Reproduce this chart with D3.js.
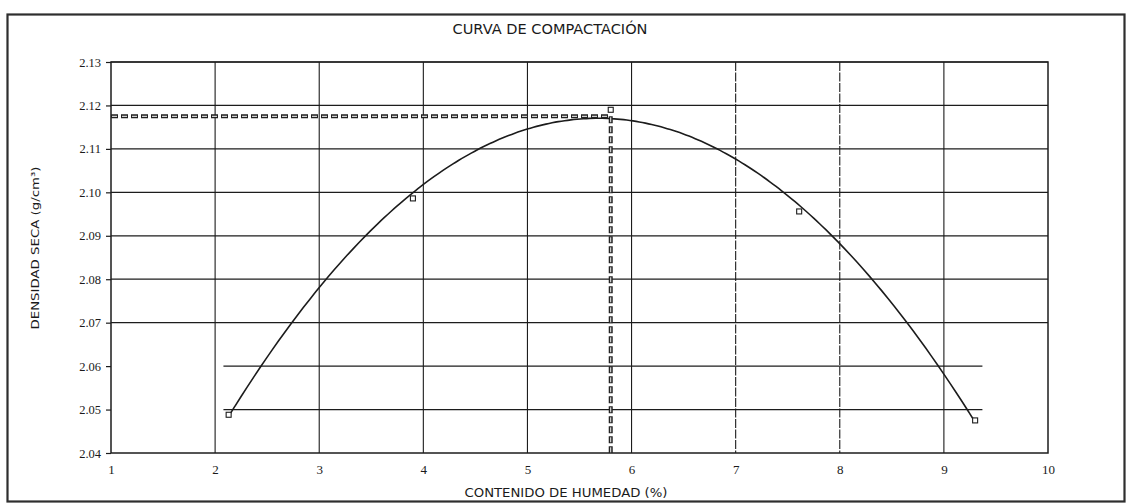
<!DOCTYPE html>
<html>
<head>
<meta charset="utf-8">
<script src="https://cdn.jsdelivr.net/npm/d3@7"></script>
<style>
  html, body { margin: 0; padding: 0; background: #fff; }
  svg { display: block; }
</style>
</head>
<body>
<svg id="chart" width="1130" height="504"></svg>
<script>
// Compaction test results (Proctor)
const moisture = [2.13, 3.9, 5.8, 7.61, 9.3];          // %
const dryDensity = [2.0488, 2.0986, 2.119, 2.0956, 2.0475]; // g/cm3

// Optimum
const optimumMoisture = 5.8;
const maxDryDensity = 2.1175;

// Axis ticks
const xTicks = [1, 2, 3, 4, 5, 6, 7, 8, 9, 10];
const yTicks = [2.04, 2.05, 2.06, 2.07, 2.08, 2.09, 2.10, 2.11, 2.12, 2.13];
// The two lowest grid lines only cover the tested moisture range
const shortGridLevels = [2.05, 2.06];
const shortGridSpan = [2.08, 9.37];
const brokenVerticals = [7, 8];

const svg = d3.select("#chart");
const ink = "#1c1c1c";

// Outer frame
svg.append("rect")
  .attr("x", 7.5).attr("y", 14.5).attr("width", 1117).attr("height", 487)
  .attr("fill", "none").attr("stroke", "#2e2e2e").attr("stroke-width", 2.2);

const x = d3.scaleLinear().domain([1, 10]).range([111, 1048]);
const y = d3.scaleLinear().domain([2.04, 2.13]).range([453, 62]);

const g = svg.append("g");

// Horizontal grid lines
yTicks.filter(v => v > 2.04 && !shortGridLevels.some(s => Math.abs(s - v) < 1e-9))
  .forEach(v => {
    g.append("line")
      .attr("x1", x(1)).attr("x2", x(10))
      .attr("y1", y(v)).attr("y2", y(v))
      .attr("stroke", ink).attr("stroke-width", 1.2);
  });
shortGridLevels.forEach(v => {
  g.append("line")
    .attr("x1", x(shortGridSpan[0])).attr("x2", x(shortGridSpan[1]))
    .attr("y1", y(v)).attr("y2", y(v))
    .attr("stroke", ink).attr("stroke-width", 1.2);
});

// Vertical grid lines
xTicks.filter(v => v > 1 && v < 10).forEach(v => {
  g.append("line")
    .attr("x1", x(v)).attr("x2", x(v))
    .attr("y1", y(2.13)).attr("y2", y(2.04))
    .attr("stroke", ink).attr("stroke-width", 1.1)
    .attr("stroke-dasharray", brokenVerticals.includes(v) ? "9,1.5" : null);
});

// Plot box
g.append("rect")
  .attr("x", x(1)).attr("y", y(2.13))
  .attr("width", x(10) - x(1)).attr("height", y(2.04) - y(2.13))
  .attr("fill", "none").attr("stroke", ink).attr("stroke-width", 1.5);

// Axes
const tickFont = "'Liberation Serif', 'Times New Roman', serif";
const yAxis = d3.axisLeft(y).tickValues(yTicks).tickFormat(d3.format(".2f"))
  .tickSize(5).tickSizeOuter(0);
const gy = svg.append("g").attr("transform", `translate(${x(1)},0)`).call(yAxis);
gy.select(".domain").remove();
gy.selectAll(".tick line").attr("stroke", ink).attr("stroke-width", 1.2);
gy.selectAll(".tick text")
  .attr("x", -10)
  .attr("font-family", tickFont)
  .attr("font-size", 12.5).attr("fill", "#1a1a1a");

const xAxis = d3.axisBottom(x).tickValues(xTicks).tickFormat(d3.format("d"))
  .tickSize(0).tickSizeOuter(0);
const gx = svg.append("g").attr("transform", `translate(0,${y(2.04)})`).call(xAxis);
gx.select(".domain").remove();
gx.selectAll(".tick text")
  .attr("y", 12)
  .attr("font-family", tickFont)
  .attr("font-size", 13).attr("fill", "#1a1a1a");

// Cubic least-squares trend line through the test points
function polyFit(xs, ys, order) {
  const n = order + 1;
  const A = Array.from({length: n}, () => new Array(n + 1).fill(0));
  xs.forEach((xv, k) => {
    for (let i = 0; i < n; i++) {
      for (let j = 0; j < n; j++) A[i][j] += Math.pow(xv, i + j);
      A[i][n] += ys[k] * Math.pow(xv, i);
    }
  });
  for (let c = 0; c < n; c++) {
    let p = c;
    for (let r = c + 1; r < n; r++) if (Math.abs(A[r][c]) > Math.abs(A[p][c])) p = r;
    [A[c], A[p]] = [A[p], A[c]];
    for (let r = 0; r < n; r++) {
      if (r === c) continue;
      const f = A[r][c] / A[c][c];
      for (let k = c; k <= n; k++) A[r][k] -= f * A[c][k];
    }
  }
  return A.map((row, i) => row[n] / row[i]);
}
const coef = polyFit(moisture, dryDensity, 3);
const trend = xv => coef.reduce((s, c, i) => s + c * Math.pow(xv, i), 0);
const xs0 = d3.min(moisture), xs1 = d3.max(moisture);
const curvePts = d3.range(0, 121).map(i => {
  const xv = xs0 + (xs1 - xs0) * i / 120;
  return [xv, trend(xv)];
});
svg.append("path")
  .datum(curvePts)
  .attr("d", d3.line().x(d => x(d[0])).y(d => y(d[1])).curve(d3.curveBasis))
  .attr("fill", "none").attr("stroke", ink).attr("stroke-width", 1.6);

// Optimum guide lines (hollow dashes)
function guide(x1, y1, x2, y2) {
  svg.append("line").attr("x1", x1).attr("y1", y1).attr("x2", x2).attr("y2", y2)
    .attr("stroke", "#222").attr("stroke-width", 4).attr("stroke-dasharray", "7,3");
  svg.append("line").attr("x1", x1).attr("y1", y1).attr("x2", x2).attr("y2", y2)
    .attr("stroke", "#fff").attr("stroke-width", 1)
    .attr("stroke-dasharray", "5,5").attr("stroke-dashoffset", -1);
}
guide(x(1), y(maxDryDensity), x(optimumMoisture), y(maxDryDensity));
guide(x(optimumMoisture), y(maxDryDensity), x(optimumMoisture), y(2.04));

// Test points
svg.selectAll("rect.pt")
  .data(moisture.map((m, i) => [m, dryDensity[i]]))
  .join("rect")
  .attr("class", "pt")
  .attr("x", d => x(d[0]) - 2.5).attr("y", d => y(d[1]) - 2.5)
  .attr("width", 5).attr("height", 5)
  .attr("fill", "#fff").attr("stroke", ink).attr("stroke-width", 1.1);

// Titles
const handFont = "'DejaVu Sans', 'Noto Sans', sans-serif";
svg.append("text")
  .attr("x", 550).attr("y", 34).attr("text-anchor", "middle")
  .attr("font-family", handFont).attr("font-size", 13.5).attr("fill", "#1a1a1a")
  .attr("textLength", 195).attr("lengthAdjust", "spacingAndGlyphs")
  .text("CURVA DE COMPACTACIÓN");

svg.append("text")
  .attr("x", 566).attr("y", 497).attr("text-anchor", "middle")
  .attr("font-family", handFont).attr("font-size", 12.5).attr("fill", "#1a1a1a")
  .attr("textLength", 203).attr("lengthAdjust", "spacingAndGlyphs")
  .text("CONTENIDO DE HUMEDAD (%)");

svg.append("text")
  .attr("transform", "translate(39,248) rotate(-90)")
  .attr("text-anchor", "middle")
  .attr("font-family", handFont).attr("font-size", 11).attr("fill", "#1a1a1a")
  .attr("textLength", 163).attr("lengthAdjust", "spacingAndGlyphs")
  .text("DENSIDAD SECA (g/cm³)");
</script>
</body>
</html>
